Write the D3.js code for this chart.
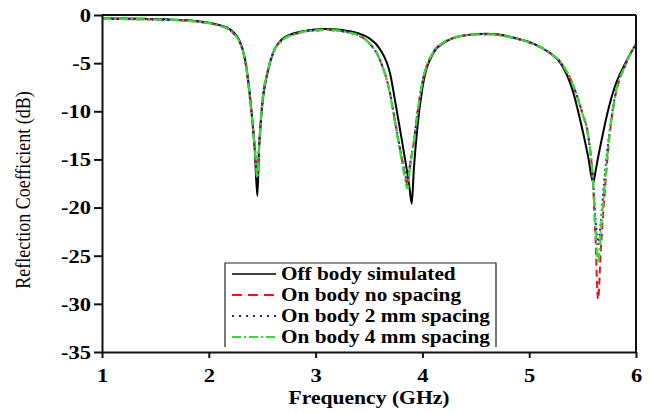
<!DOCTYPE html>
<html>
<head>
<meta charset="utf-8">
<script src="https://cdn.jsdelivr.net/npm/d3@7"></script>
<style>
  html, body { margin: 0; padding: 0; background: #fff; }
  svg { display: block; }
  text { font-family: "Liberation Serif", "Times New Roman", serif; fill: #000; }
</style>
</head>
<body>
<svg id="chart" width="651" height="413"></svg>
<script>
// ---- Data ----
const freq = [1.0, 1.2, 1.4, 1.6, 1.8, 1.9, 2.0, 2.1, 2.2, 2.3, 2.35, 2.4, 2.43, 2.455, 2.47, 2.5, 2.55, 2.6, 2.7, 2.8,
  2.9, 3.0, 3.1, 3.2, 3.3, 3.4, 3.5, 3.6, 3.7, 3.75, 3.8, 3.83, 3.86, 3.88, 3.9, 3.92, 3.95, 4.0, 4.1, 4.2,
  4.3, 4.4, 4.5, 4.6, 4.7, 4.8, 4.9, 5.0, 5.1, 5.2, 5.3, 5.4, 5.5, 5.55, 5.6, 5.62, 5.645, 5.67, 5.7, 5.75,
  5.8, 5.9, 6.0];

const offBody = [-0.35, -0.37, -0.4, -0.45, -0.55, -0.65, -0.8, -1.05, -1.5, -3.0, -5.3, -10.0, -14.0, -18.8, -14.0, -9.4, -6.0, -4.0, -2.4, -1.9,
  -1.65, -1.5, -1.45, -1.5, -1.65, -1.9, -2.4, -3.5, -6.2, -9.3, -12.5, -14.5, -16.5, -18.0, -19.6, -16.0, -12.0, -7.6, -4.0, -2.9,
  -2.35, -2.1, -2.0, -1.95, -2.0, -2.2, -2.5, -2.8, -3.3, -4.0, -5.1, -7.6, -12.0, -14.6, -17.4, -16.3, -14.8, -13.4, -11.8, -9.4,
  -7.5, -5.0, -3.0];

const noSpacing = [-0.4, -0.42, -0.45, -0.5, -0.6, -0.7, -0.85, -1.1, -1.6, -3.1, -5.4, -10.2, -13.8, -17.0, -14.0, -9.2, -5.9, -4.0, -2.5, -2.0,
  -1.7, -1.6, -1.55, -1.6, -1.8, -2.1, -2.9, -4.6, -8.3, -11.5, -14.5, -16.3, -17.6, -16.0, -14.5, -13.2, -10.5, -7.0, -3.9, -2.85,
  -2.35, -2.1, -2.0, -2.0, -2.05, -2.25, -2.5, -2.85, -3.3, -4.0, -5.0, -7.0, -10.3, -12.4, -18.0, -23.0, -29.5, -24.5, -19.5, -12.8,
  -8.8, -5.2, -3.0];

const spacing2mm = [-0.4, -0.42, -0.45, -0.5, -0.6, -0.7, -0.85, -1.1, -1.6, -3.1, -5.4, -10.1, -13.6, -16.6, -13.8, -9.2, -5.9, -4.0, -2.5, -2.0,
  -1.7, -1.6, -1.55, -1.6, -1.8, -2.1, -2.9, -4.6, -8.3, -11.4, -14.4, -16.1, -17.3, -15.8, -14.4, -13.1, -10.4, -7.0, -3.9, -2.85,
  -2.35, -2.1, -2.0, -2.0, -2.05, -2.25, -2.5, -2.85, -3.3, -4.0, -5.0, -7.0, -10.3, -12.3, -17.5, -21.0, -23.8, -21.5, -17.5, -12.3,
  -8.6, -5.2, -3.0];

const spacing4mm = [-0.4, -0.42, -0.45, -0.5, -0.6, -0.7, -0.85, -1.1, -1.6, -3.1, -5.4, -10.2, -13.8, -16.9, -13.9, -9.2, -5.9, -4.0, -2.5, -2.0,
  -1.7, -1.6, -1.55, -1.6, -1.8, -2.1, -2.9, -4.6, -8.4, -11.6, -14.7, -16.6, -18.0, -16.2, -14.6, -13.3, -10.5, -7.0, -3.9, -2.85,
  -2.35, -2.1, -2.0, -2.0, -2.05, -2.25, -2.5, -2.85, -3.3, -4.0, -5.0, -7.0, -10.3, -12.4, -17.8, -22.0, -25.8, -22.5, -18.5, -12.6,
  -8.7, -5.2, -3.0];

const seriesNames = ["Off body simulated", "On body no spacing", "On body 2 mm spacing", "On body 4 mm spacing"];
const xTicks = [1, 2, 3, 4, 5, 6];
const yTicks = [0, -5, -10, -15, -20, -25, -30, -35];
const xTitle = "Frequency (GHz)";
const yTitle = "Reflection Coefficient (dB)";

// ---- Styles ----
const seriesData = [offBody, noSpacing, spacing2mm, spacing4mm];
const seriesStyle = [
  { color: "#000000", dash: null,        width: 2.0 },
  { color: "#e8141c", dash: "7,4",       width: 2.0 },
  { color: "#1c1cc8", dash: "2,3",       width: 2.0 },
  { color: "#2ee02e", dash: "9,3,2,3",   width: 2.2 }
];

const svg = d3.select("#chart");
const L = 102, R = 636, T = 15, B = 352;

const x = d3.scaleLinear().domain([1, 6]).range([L, R]);
const y = d3.scaleLinear().domain([-35, 0]).range([B, T]);

function stretch(sel, k) {
  sel.each(function () {
    const len = this.getComputedTextLength();
    this.setAttribute("textLength", len * k);
    this.setAttribute("lengthAdjust", "spacingAndGlyphs");
  });
}

// clip
svg.append("defs").append("clipPath").attr("id", "clip")
  .append("rect").attr("x", L).attr("y", T).attr("width", R - L).attr("height", B - T);

// lines
const line = d3.line()
  .x((d, i) => x(freq[i]))
  .y(d => y(d))
  .curve(d3.curveMonotoneX);

const gLines = svg.append("g").attr("clip-path", "url(#clip)");
seriesData.forEach((data, k) => {
  const st = seriesStyle[k];
  gLines.append("path")
    .attr("d", line(data))
    .attr("fill", "none")
    .attr("stroke", st.color)
    .attr("stroke-width", st.width)
    .attr("stroke-dasharray", st.dash)
    .attr("stroke-linejoin", "round");
});

// frame top/right
svg.append("line").attr("x1", L).attr("x2", R).attr("y1", T).attr("y2", T)
  .attr("stroke", "#111").attr("stroke-width", 2);
svg.append("line").attr("x1", R).attr("x2", R).attr("y1", T).attr("y2", B)
  .attr("stroke", "#111").attr("stroke-width", 2);

// axes
const xAxis = svg.append("g").attr("transform", `translate(0,${B})`)
  .call(d3.axisBottom(x).tickValues(xTicks).tickFormat(d3.format("d")).tickSize(6).tickSizeOuter(0).tickPadding(8));
const yAxis = svg.append("g").attr("transform", `translate(${L},0)`)
  .call(d3.axisLeft(y).tickValues(yTicks).tickFormat(d => d === 0 ? "0" : "-" + Math.abs(d)).tickSize(8).tickSizeOuter(0).tickPadding(3));

[xAxis, yAxis].forEach(a => {
  a.select(".domain").attr("stroke", "#111").attr("stroke-width", 2);
  a.selectAll(".tick line").attr("stroke", "#111").attr("stroke-width", 2);
  a.selectAll(".tick text")
    .style("font-family", '"Liberation Serif", "Times New Roman", serif')
    .style("font-weight", "bold")
    .style("font-size", "18px")
    .attr("fill", "#000");
});
xAxis.selectAll(".tick text").attr("dy", "0.9em");
yAxis.selectAll(".tick text").attr("dy", "0.35em");
stretch(xAxis.selectAll(".tick text"), 1.25);
stretch(yAxis.selectAll(".tick text"), 1.25);

// axis titles
const xt = svg.append("text")
  .attr("x", (L + R) / 2).attr("y", 404)
  .attr("text-anchor", "middle")
  .style("font-weight", "bold").style("font-size", "18px")
  .text(xTitle);
stretch(xt, 1.2);

svg.append("text")
  .attr("transform", `translate(30,190) scale(1.2,1) rotate(-90)`)
  .attr("text-anchor", "middle")
  .style("font-size", "18px")
  .text(yTitle);

// legend
const lg = svg.append("g");
const lx0 = 225, ly0 = 263, lx1 = 496, ly1 = 347;
lg.append("path")
  .attr("d", `M${lx0},${ly1}V${ly0}H${lx1}V${ly1}`)
  .attr("fill", "#fff").attr("stroke", "#222").attr("stroke-width", 1.2);
const rowBase = [280, 301, 322, 343];
seriesNames.forEach((name, k) => {
  const st = seriesStyle[k];
  const cy = rowBase[k] - 6;
  lg.append("line")
    .attr("x1", 232).attr("x2", 276).attr("y1", cy).attr("y2", cy)
    .attr("stroke", st.color).attr("stroke-width", k === 0 ? 1.6 : 2)
    .attr("stroke-dasharray", k === 1 ? "10,6" : (k === 2 ? "2,5" : st.dash));
  const t = lg.append("text")
    .attr("x", 281).attr("y", rowBase[k])
    .style("font-weight", "bold").style("font-size", "18px")
    .text(name);
  stretch(t, 1.18);
});
</script>
</body>
</html>
